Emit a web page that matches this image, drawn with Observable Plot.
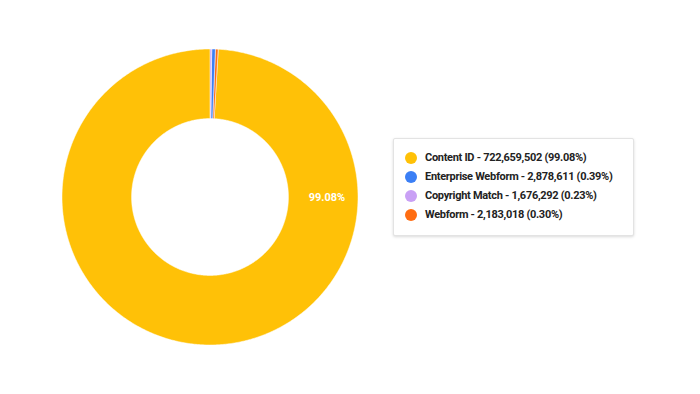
<!DOCTYPE html>
<html>
<head>
<meta charset="utf-8">
<script src="https://cdn.jsdelivr.net/npm/d3@7"></script>
<script src="https://cdn.jsdelivr.net/npm/@observablehq/plot@0.6"></script>
<style>
  html, body { margin: 0; padding: 0; background: #fff; }
  #wrap { position: relative; width: 700px; height: 394px; font-family: Roboto, "Noto Sans", sans-serif; }
  #legend {
    position: absolute; left: 393px; top: 138px; width: 241px; height: 98px; box-sizing: border-box;
    background: #fff; border: 1px solid #e3e3e3; border-radius: 2px;
    box-shadow: 0 1px 3px rgba(0,0,0,0.15);
    padding: 9px 0 0 11px;
  }
  .item { display: flex; align-items: center; height: 19px; font-size: 11px; letter-spacing: -0.3px; font-weight: bold; color: #222; white-space: nowrap; }
  .sw { width: 12px; height: 12px; border-radius: 50%; margin-right: 8px; flex: none; }
</style>
</head>
<body>
<div id="wrap"></div>
<script>
// Data
const categories = ["Content ID", "Enterprise Webform", "Copyright Match", "Webform"];
const values = [722659502, 2878611, 1676292, 2183018];
const percents = ["99.08%", "0.39%", "0.23%", "0.30%"];
const colors = ["#ffc107", "#3b7ff5", "#c9a0f5", "#ff6d12"];
// drawing order clockwise from 12 o'clock
const sliceOrder = ["Copyright Match", "Enterprise Webform", "Webform", "Content ID"];

const innerR = 0.53;
const labelAngle = Math.PI / 2;
const labelR = 0.79;

const total = d3.sum(values);
let acc = 0;
const polys = [];
for (const name of sliceOrder) {
  const i = categories.indexOf(name);
  const a0 = acc / total * 2 * Math.PI;
  acc += values[i];
  const a1 = acc / total * 2 * Math.PI;
  const n = Math.max(2, Math.ceil((a1 - a0) / 0.01));
  for (let k = 0; k <= n; k++) {
    const a = a0 + (a1 - a0) * k / n;
    polys.push({name, x: Math.sin(a), y: Math.cos(a)});
  }
  for (let k = n; k >= 0; k--) {
    const a = a0 + (a1 - a0) * k / n;
    polys.push({name, x: innerR * Math.sin(a), y: innerR * Math.cos(a)});
  }
}
const labels = [{text: percents[0], x: labelR * Math.sin(labelAngle), y: labelR * Math.cos(labelAngle)}];

const chart = Plot.plot({
  width: 700,
  height: 394,
  marginLeft: 61.5,
  marginRight: 342.5,
  marginTop: 48.5,
  marginBottom: 49.5,
  x: {domain: [-1, 1], axis: null},
  y: {domain: [-1, 1], axis: null},
  color: {domain: categories, range: colors},
  style: {fontFamily: "Roboto, sans-serif", background: "#fff"},
  marks: [
    Plot.line(polys, {x: "x", y: "y", z: "name", fill: "name", stroke: "white", strokeWidth: 0.5, curve: "linear-closed"}),
    Plot.text(labels, {x: "x", y: "y", text: "text", fill: "white", fontWeight: "bold", fontSize: 11})
  ]
});
const wrap = document.getElementById("wrap");
wrap.appendChild(chart);

const legend = document.createElement("div");
legend.id = "legend";
categories.forEach((c, i) => {
  const row = document.createElement("div");
  row.className = "item";
  const sw = document.createElement("span");
  sw.className = "sw";
  sw.style.background = colors[i];
  row.appendChild(sw);
  row.appendChild(document.createTextNode(`${c} - ${d3.format(",")(values[i])} (${percents[i]})`));
  legend.appendChild(row);
});
wrap.appendChild(legend);
</script>
</body>
</html>
